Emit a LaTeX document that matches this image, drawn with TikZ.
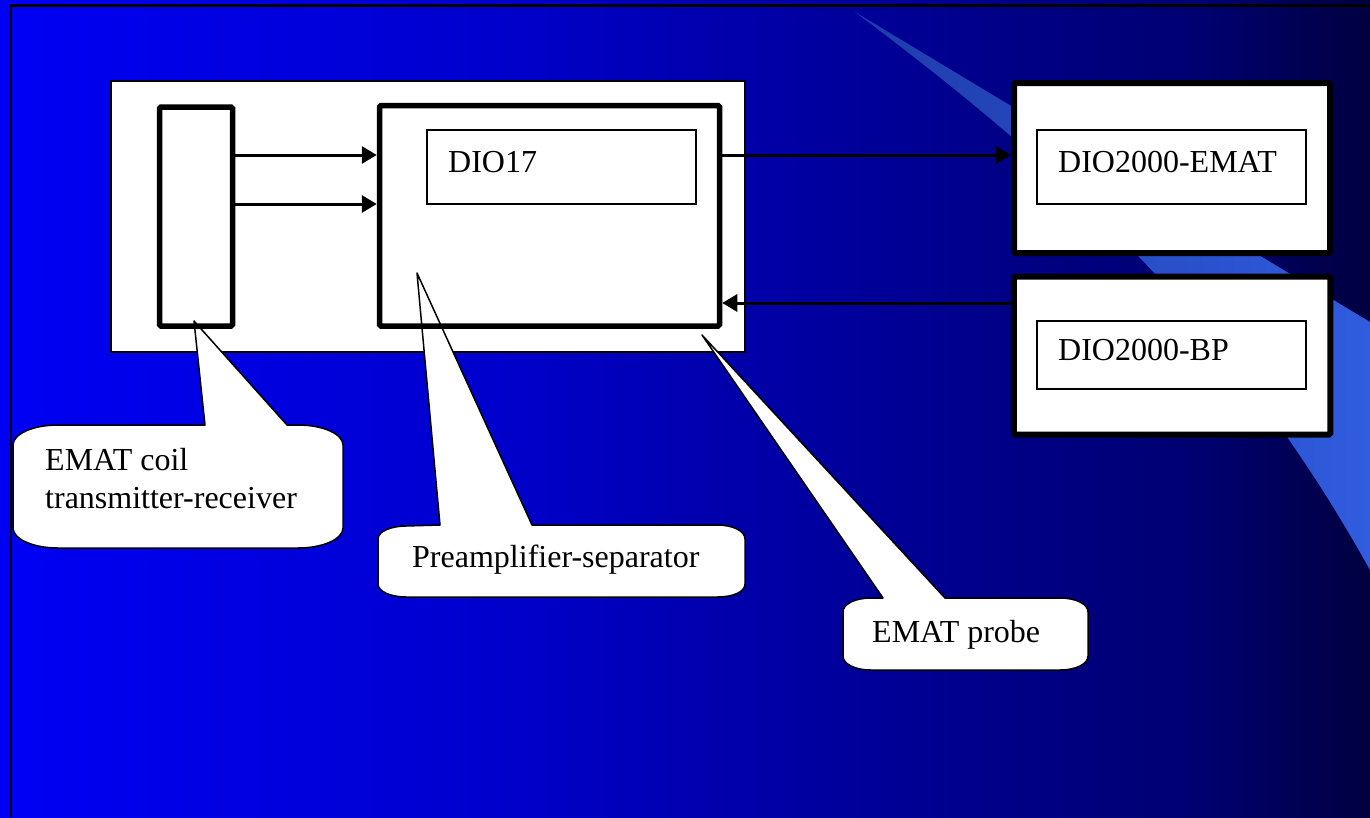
\documentclass[tikz,border=0pt]{standalone}
\usepackage{fontspec}
\setmainfont{Liberation Serif}
\usetikzlibrary{arrows.meta}
\pgfdeclarehorizontalshading{bgshade}{100bp}{rgb(0bp)=(0,0,0.96); rgb(25bp)=(0,0,0.96); rgb(43.25bp)=(0,0,0.80); rgb(50.5bp)=(0,0,0.686); rgb(63bp)=(0,0,0.51); rgb(68.8bp)=(0,0,0.44); rgb(75bp)=(0,0,0.25); rgb(100bp)=(0,0,0.25)}
\definecolor{swl}{RGB}{30,60,170}
\definecolor{swr}{RGB}{48,92,222}
\begin{document}
\begin{tikzpicture}[x=1pt,y=-1pt,
  box/.style={draw=black, line width=5.5pt, rounded corners=1.5pt, inner sep=0pt},
  inbox/.style={draw=black, line width=1.5pt, fill=white, inner sep=0pt, minimum width=269pt},
  lbl/.style={anchor=base west, inner sep=0pt, font=\fontsize{32}{38}\selectfont, text=black},
  arr/.style={line width=3pt, -{Triangle[length=15pt,width=17pt]}},
  callout/.style={draw=black, fill=white, line width=1.5pt, line join=round}]
\useasboundingbox (0,0) rectangle (1370,817);
% background
\shade[shading=bgshade] (0,0) rectangle (1370,817);
% swoosh
\shade[left color=swl, right color=swr] (855,12) -- (1370,322) -- (1370,570) .. controls (1230,318) and (1055,162) .. (855,12) -- cycle;
% frame
\draw[line width=2.5pt] (11,817) -- (11,5.5) -- (1370,5.5);
% white panel
\node[draw=black, line width=1.2pt, fill=white, inner sep=0pt, minimum width=634pt, minimum height=271pt] (panel) at (428,216.5) {};
% callouts
\draw[callout] (13,445) .. controls (13,434) and (33,425) .. (58,425) -- (205,425) -- (194,321) -- (287,425) -- (298,425) .. controls (323,425) and (343,434) .. (343,445) -- (343,528) .. controls (343,539) and (323,548) .. (298,548) -- (58,548) .. controls (33,548) and (13,539) .. (13,528) -- cycle;
\draw[callout] (378,539) .. controls (378,531) and (392,526) .. (406,526) -- (440,525) -- (417,273) -- (532,525) -- (717,525) .. controls (733,525) and (745,531) .. (745,539) -- (745,584) .. controls (745,592) and (733,597) .. (717,597) -- (406,597) .. controls (392,597) and (378,592) .. (378,584) -- cycle;
\draw[callout] (843,612) .. controls (843,604) and (855,598) .. (871,598) -- (883,598) -- (702,335) -- (945,598) -- (1060,598) .. controls (1076,598) and (1088,604) .. (1088,612) -- (1088,656) .. controls (1088,664) and (1076,670) .. (1060,670) -- (871,670) .. controls (855,670) and (843,664) .. (843,656) -- cycle;
% boxes
\node[box, minimum width=73pt, minimum height=219pt] (coil) at (196,216.5) {};
\node[box, minimum width=340pt, minimum height=220.5pt] (pre) at (549.5,215.75) {};
\node[inbox, minimum height=74pt] (dio17) at (561.5,167) {};
\node[box, fill=white, line width=6pt, minimum width=316pt, minimum height=170pt] (emat) at (1172,168) {};
\node[inbox, minimum height=74pt] (ematin) at (1171.5,167) {};
\node[box, fill=white, line width=6pt, minimum width=316.5pt, minimum height=158pt] (bp) at (1172,355.5) {};
\node[inbox, minimum height=68pt] (bpin) at (1171.5,355) {};
% texts
\node[lbl] (t17) at (448,172) {DIO17};
\node[lbl] (tem) at (1058,172) {DIO2000-EMAT};
\node[lbl] (tbp) at (1058,360) {DIO2000-BP};
\node[lbl] (tc1) at (45,470) {EMAT coil};
\node[lbl] (tc2) at (45,508) {transmitter-receiver};
\node[lbl] (tpre) at (412,567) {Preamplifier-separator};
\node[lbl] (tprobe) at (872,642) {EMAT probe};
% connectors
\coordinate (ya) at (0,155);
\coordinate (yb) at (0,204);
\coordinate (yc) at (0,303);
\draw[arr] (coil.east |- ya) -- (pre.west |- ya);
\draw[arr] (coil.east |- yb) -- (pre.west |- yb);
\draw[arr] (pre.east |- ya) -- (emat.west |- ya);
\draw[arr] (bp.west |- yc) -- (pre.east |- yc);
\end{tikzpicture}
\end{document}
